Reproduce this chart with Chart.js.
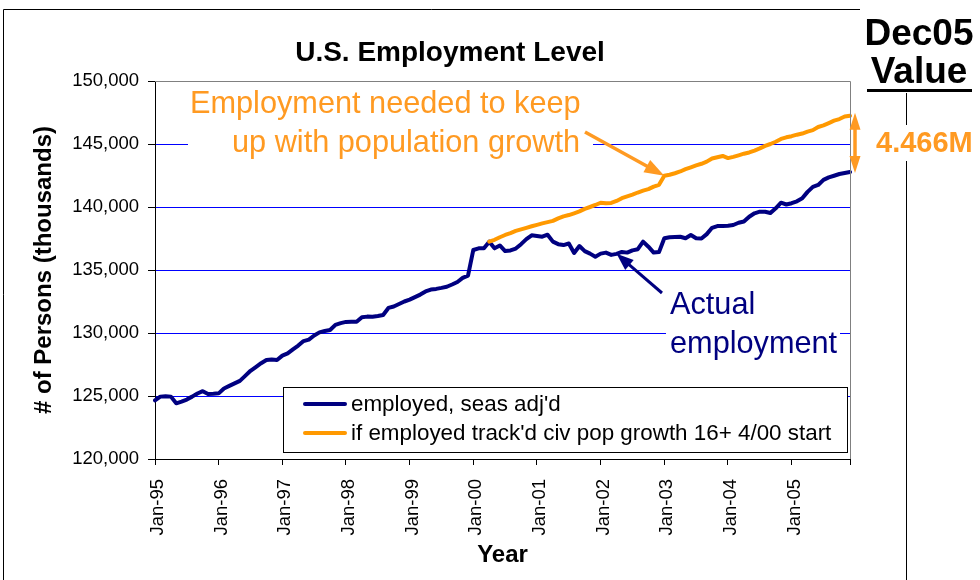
<!DOCTYPE html>
<html>
<head>
<meta charset="utf-8">
<title>U.S. Employment Level</title>
<script src="https://cdn.jsdelivr.net/npm/chart.js@4.4.1/dist/chart.umd.min.js"></script>
<style>
  html, body { margin: 0; padding: 0; background: #fff; }
  canvas { display: block; }
</style>
</head>
<body>
<canvas id="chart" width="980" height="580"></canvas>
<script>
// ---- data (thousands of persons, monthly, Jan-95 .. Dec-05) ----
const yearTags = ['95', '96', '97', '98', '99', '00', '01', '02', '03', '04', '05'];
const monthNames = ['Jan', 'Feb', 'Mar', 'Apr', 'May', 'Jun', 'Jul', 'Aug', 'Sep', 'Oct', 'Nov', 'Dec'];
const monthLabels = [];
yearTags.forEach(yy => monthNames.forEach(m => monthLabels.push(m + '-' + yy)));

// employed, seasonally adjusted
const employed = [
  124650, 124950, 124980, 124950, 124420, 124560, 124720, 124950, 125200, 125380, 125160, 125180, // 1995
  125210, 125600, 125800, 126000, 126200, 126600, 127000, 127300, 127600, 127850, 127900, 127860, // 1996
  128200, 128380, 128700, 129000, 129360, 129480, 129800, 130050, 130160, 130240, 130650, 130780, // 1997
  130880, 130900, 130890, 131250, 131300, 131290, 131350, 131430, 131990, 132100, 132300, 132500, // 1998
  132650, 132850, 133050, 133300, 133450, 133500, 133580, 133670, 133850, 134050, 134380, 134560, // 1999
  136590, 136720, 136730, 137250, 136720, 136950, 136500, 136550, 136700, 137050, 137450, 137750, // 2000
  137700, 137640, 137800, 137250, 137050, 136980, 137100, 136350, 136900, 136500, 136300, 136060, // 2001
  136300, 136380, 136200, 136280, 136430, 136380, 136560, 136650, 137250, 136850, 136380, 136420, // 2002
  137520, 137600, 137620, 137640, 137520, 137780, 137520, 137500, 137850, 138350, 138490, 138490, // 2003
  138520, 138570, 138750, 138850, 139230, 139500, 139630, 139620, 139520, 139900, 140340, 140200, // 2004
  140300, 140450, 140690, 141200, 141600, 141750, 142150, 142350, 142480, 142620, 142700, 142779  // 2005
];

// employment if it had tracked civilian population growth (16+), starting Apr-00
const trackStart = 'Apr-00';
const popTrackValues = [
  137250, 137400, 137600, 137780, 137920, 138100, 138220, 138350, 138470,                         // Apr-Dec 2000
  138580, 138700, 138800, 138900, 139100, 139260, 139360, 139500, 139650, 139850, 140000, 140160, // 2001
  140340, 140300, 140320, 140480, 140700, 140840, 140980, 141150, 141300, 141420, 141620, 141760, // 2002
  142480, 142560, 142680, 142820, 143000, 143150, 143300, 143430, 143600, 143850, 143950, 144050, // 2003
  143880, 143980, 144100, 144230, 144330, 144480, 144650, 144850, 145000, 145180, 145400, 145530, // 2004
  145620, 145740, 145830, 145980, 146100, 146350, 146480, 146660, 146850, 146980, 147180, 147245  // 2005
];
const popTrack = new Array(monthLabels.indexOf(trackStart)).fill(null).concat(popTrackValues);

const seriesNames = ["employed, seas adj'd", "if employed track'd civ pop growth 16+ 4/00 start"];

// ---- styling ----
const FONT = '"Liberation Sans", Arial, Helvetica, sans-serif';
const NAVY = '#000080';
const ORANGE = '#FF9900';
const NOTE_ORANGE = '#FF9A22';
const GRID_BLUE = '#0000FF';

Chart.defaults.font.family = FONT;
Chart.defaults.color = '#000';

function arrowHead(ctx, fx, fy, tx, ty, len, half, color) {
  const a = Math.atan2(ty - fy, tx - fx);
  const bx = tx - len * Math.cos(a), by = ty - len * Math.sin(a);
  ctx.beginPath();
  ctx.moveTo(tx, ty);
  ctx.lineTo(bx + half * Math.sin(a), by - half * Math.cos(a));
  ctx.lineTo(bx - half * Math.sin(a), by + half * Math.cos(a));
  ctx.closePath();
  ctx.fillStyle = color;
  ctx.fill();
}

function arrow(ctx, x1, y1, x2, y2, color, width, len, half, both) {
  const a = Math.atan2(y2 - y1, x2 - x1);
  const k = len * 0.7;
  ctx.beginPath();
  ctx.moveTo(both ? x1 + k * Math.cos(a) : x1, both ? y1 + k * Math.sin(a) : y1);
  ctx.lineTo(x2 - k * Math.cos(a), y2 - k * Math.sin(a));
  ctx.strokeStyle = color;
  ctx.lineWidth = width;
  ctx.lineCap = 'butt';
  ctx.stroke();
  arrowHead(ctx, x1, y1, x2, y2, len, half, color);
  if (both) arrowHead(ctx, x2, y2, x1, y1, len, half, color);
}

const decorations = {
  id: 'decorations',
  afterDraw(chart) {
    const { ctx, chartArea: ca, scales: { x, y } } = chart;
    const last = monthLabels.length - 1;
    ctx.save();

    // outer frame (top and left edges)
    ctx.strokeStyle = '#000';
    ctx.lineWidth = 1;
    ctx.beginPath();
    ctx.moveTo(860, 9.5);
    ctx.lineTo(3.5, 9.5);
    ctx.lineTo(3.5, 580);
    ctx.stroke();

    // plot area border, top and right
    ctx.strokeStyle = '#808080';
    ctx.beginPath();
    ctx.moveTo(ca.left, ca.top + 0.5);
    ctx.lineTo(ca.right + 0.5, ca.top + 0.5);
    ctx.lineTo(ca.right + 0.5, ca.bottom);
    ctx.stroke();

    // chart title
    ctx.fillStyle = '#000';
    ctx.font = 'bold 28px ' + FONT;
    ctx.textAlign = 'center';
    ctx.textBaseline = 'alphabetic';
    ctx.fillText('U.S. Employment Level', 450, 61);

    // callout: needed employment
    ctx.fillStyle = '#fff';
    ctx.fillRect(188, 86, 405, 74);
    ctx.fillStyle = NOTE_ORANGE;
    ctx.font = '30.7px ' + FONT;
    ctx.textAlign = 'left';
    ctx.fillText('Employment needed to keep', 190, 113);
    ctx.fillText('up with population growth', 232, 152);
    const oi = monthLabels.indexOf('Jan-03');
    arrow(ctx, 585, 132, x.getPixelForValue(oi), y.getPixelForValue(popTrack[oi]), NOTE_ORANGE, 3.5, 20, 7, false);

    // callout: actual employment
    ctx.fillStyle = '#fff';
    ctx.fillRect(666, 284, 174, 78);
    ctx.fillStyle = NAVY;
    ctx.fillText('Actual', 670, 314);
    ctx.fillText('employment', 670, 353);
    const ai = monthLabels.indexOf('Apr-02');
    arrow(ctx, 662, 293, x.getPixelForValue(ai), y.getPixelForValue(employed[ai]), NAVY, 3, 17, 6.5, false);

    // legend
    ctx.fillStyle = '#fff';
    ctx.fillRect(283.5, 387.5, 564, 65);
    ctx.strokeStyle = '#000';
    ctx.lineWidth = 1;
    ctx.strokeRect(283.5, 387.5, 564, 65);
    ctx.font = '22.4px ' + FONT;
    ctx.textBaseline = 'middle';
    chart.data.datasets.forEach((ds, k) => {
      const cy = 404 + k * 29;
      ctx.beginPath();
      ctx.moveTo(305, cy);
      ctx.lineTo(345, cy);
      ctx.strokeStyle = ds.borderColor;
      ctx.lineWidth = 4;
      ctx.lineCap = 'round';
      ctx.stroke();
      ctx.fillStyle = '#000';
      ctx.fillText(ds.label, 351, cy + 1);
    });

    // gap at the last month
    const yTop = y.getPixelForValue(popTrack[last]);
    const yBot = y.getPixelForValue(employed[last]);
    arrow(ctx, ca.right + 5, yTop - 3, ca.right + 5, yBot + 1, NOTE_ORANGE, 3.5, 17, 5.5, true);

    // side table
    ctx.strokeStyle = '#000';
    ctx.lineWidth = 1;
    ctx.beginPath();
    ctx.moveTo(906.5, 93);
    ctx.lineTo(906.5, 580);
    ctx.stroke();
    ctx.fillStyle = '#000';
    ctx.font = 'bold 37px ' + FONT;
    ctx.textAlign = 'center';
    ctx.textBaseline = 'alphabetic';
    ctx.fillText('Dec05', 919, 45);
    ctx.fillText('Value', 919, 83);
    ctx.fillRect(867, 89, 105, 3);

    const gap = (popTrack[last] - employed[last]) / 1000;
    ctx.fillStyle = '#fff';
    ctx.fillRect(873, 125, 107, 36);
    ctx.fillStyle = NOTE_ORANGE;
    ctx.font = 'bold 29px ' + FONT;
    ctx.textAlign = 'left';
    ctx.textBaseline = 'middle';
    ctx.fillText(gap.toFixed(3) + 'M', 876, 144);

    ctx.restore();
  }
};

new Chart(document.getElementById('chart'), {
  type: 'line',
  data: {
    labels: monthLabels,
    datasets: [
      {
        label: seriesNames[0],
        data: employed,
        borderColor: NAVY,
        borderWidth: 4,
        pointRadius: 0,
        tension: 0,
        borderJoinStyle: 'round',
        borderCapStyle: 'round',
        order: 1
      },
      {
        label: seriesNames[1],
        data: popTrack,
        borderColor: ORANGE,
        borderWidth: 4,
        pointRadius: 0,
        tension: 0,
        borderJoinStyle: 'round',
        borderCapStyle: 'round',
        spanGaps: false,
        order: 0
      }
    ]
  },
  options: {
    responsive: false,
    animation: false,
    devicePixelRatio: 1,
    layout: { padding: { left: 0, top: 81, right: 130, bottom: 0 } },
    plugins: {
      legend: { display: false },
      tooltip: { enabled: false },
      title: { display: false }
    },
    scales: {
      x: {
        type: 'category',
        offset: false,
        afterFit(scale) { scale.height = 121; },
        border: { display: true, color: '#000', width: 1 },
        grid: {
          display: true,
          drawOnChartArea: false,
          drawTicks: true,
          tickLength: 6,
          tickColor: c => (c.index % 12 === 0 || c.index === monthLabels.length - 1) ? '#000' : 'rgba(0,0,0,0)'
        },
        ticks: {
          autoSkip: false,
          maxRotation: 90,
          minRotation: 90,
          padding: 14,
          labelOffset: 3,
          font: { size: 18.5 },
          color: '#000',
          callback: (v, i) => (i % 12 === 0 ? monthLabels[i] : '')
        },
        title: {
          display: true,
          text: 'Year',
          font: { size: 24, weight: 'bold' },
          color: '#000',
          padding: { top: 0, bottom: 10 }
        }
      },
      y: {
        min: 120000,
        max: 150000,
        afterFit(scale) { scale.width = 155; },
        border: { display: true, color: '#000', width: 1 },
        grid: {
          color: c => c.tick.value === 150000 ? '#808080' : (c.tick.value === 120000 ? '#000' : GRID_BLUE),
          lineWidth: 1,
          tickLength: 7,
          tickColor: '#000'
        },
        ticks: {
          stepSize: 5000,
          padding: 9,
          font: { size: 18.5 },
          color: '#000',
          callback: v => v.toLocaleString('en-US')
        },
        title: {
          display: true,
          text: '# of Persons (thousands)',
          font: { size: 24, weight: 'bold' },
          color: '#000',
          padding: { top: 30, bottom: 0 }
        }
      }
    }
  },
  plugins: [decorations]
});
</script>
</body>
</html>
